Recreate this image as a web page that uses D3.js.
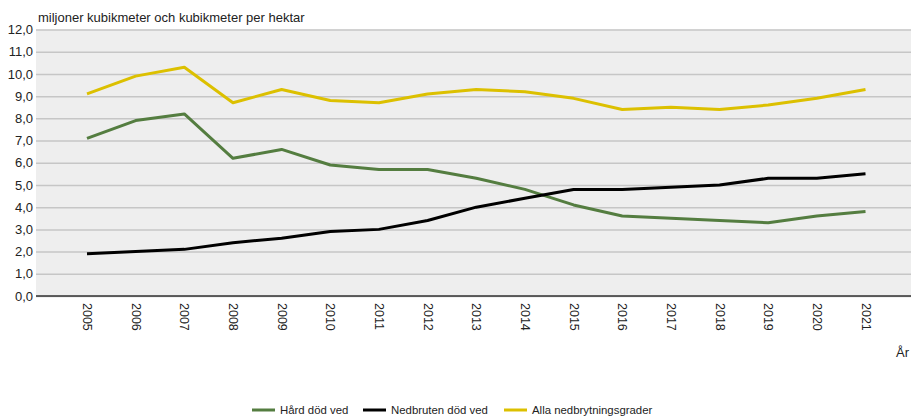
<!DOCTYPE html>
<html>
<head>
<meta charset="utf-8">
<script src="https://cdn.jsdelivr.net/npm/d3@7"></script>
<style>
  body { margin: 0; background: #fff; }
  text { font-family: "Liberation Sans", Arial, sans-serif; fill: #222; }
</style>
</head>
<body>
<svg id="chart" width="911" height="417"></svg>
<script>
const years = ['2005', '2006', '2007', '2008', '2009', '2010', '2011', '2012', '2013',
  '2014', '2015', '2016', '2017', '2018', '2019', '2020', '2021'];

const hardDodVed = [7.1, 7.9, 8.2, 6.2, 6.6, 5.9, 5.7, 5.7, 5.3, 4.8, 4.1, 3.6, 3.5, 3.4, 3.3, 3.6, 3.8];
const nedbrutenDodVed = [1.9, 2.0, 2.1, 2.4, 2.6, 2.9, 3.0, 3.4, 4.0, 4.4, 4.8, 4.8, 4.9, 5.0, 5.3, 5.3, 5.5];
const allaGrader = [9.1, 9.9, 10.3, 8.7, 9.3, 8.8, 8.7, 9.1, 9.3, 9.2, 8.9, 8.4, 8.5, 8.4, 8.6, 8.9, 9.3];

const yTicks = d3.range(0, 13);

const series = [
  { name: 'Hård död ved', color: '#547d40', values: hardDodVed },
  { name: 'Nedbruten död ved', color: '#000000', values: nedbrutenDodVed },
  { name: 'Alla nedbrytningsgrader', color: '#dcc000', values: allaGrader }
];

const svg = d3.select('#chart'),
  plot = { left: 36, right: 911, top: 29.5, bottom: 296 };

const x = d3.scalePoint()
  .domain(years)
  .range([87, 865.5]);

const y = d3.scaleLinear()
  .domain([0, 12])
  .range([plot.bottom, plot.top]);

// grey plot background
svg.append('rect')
  .attr('x', plot.left)
  .attr('y', plot.top)
  .attr('width', plot.right - plot.left)
  .attr('height', plot.bottom - plot.top)
  .attr('fill', '#eeeeee');

// grid lines + y labels
const yAxis = g => g
  .attr('transform', `translate(${plot.left},0)`)
  .call(d3.axisLeft(y)
    .tickValues(yTicks)
    .tickSize(-(plot.right - plot.left))
    .tickPadding(3)
    .tickFormat(d => d3.format('.1f')(d).replace('.', ',')))
  .call(g => g.select('.domain').remove())
  .call(g => g.selectAll('.tick line')
    .attr('stroke', '#c6c6c6')
    .attr('stroke-width', 1.5))
  .call(g => g.selectAll('.tick text')
    .attr('font-size', 13)
    .attr('fill', '#222'));

svg.append('g').call(yAxis);

// base line
svg.append('line')
  .attr('x1', plot.left)
  .attr('x2', plot.right)
  .attr('y1', y(0))
  .attr('y2', y(0))
  .attr('stroke', '#333')
  .attr('stroke-width', 1.5);

// x labels, rotated
const xAxis = g => g
  .attr('transform', `translate(0,${plot.bottom})`)
  .call(d3.axisBottom(x).tickSize(0).tickPadding(0))
  .call(g => g.select('.domain').remove())
  .call(g => g.selectAll('.tick text')
    .attr('font-size', 12.5)
    .attr('text-anchor', 'start')
    .attr('dy', '0.35em')
    .attr('transform', 'translate(0,7) rotate(90)'));

svg.append('g').call(xAxis);

// lines
const line = d3.line()
  .x((d, i) => x(years[i]))
  .y(d => y(d));

svg.append('g')
  .selectAll('path')
  .data(series)
  .enter()
  .append('path')
  .attr('fill', 'none')
  .attr('stroke', d => d.color)
  .attr('stroke-width', 3)
  .attr('stroke-linejoin', 'round')
  .attr('d', d => line(d.values));

// titles
svg.append('text')
  .attr('x', 38)
  .attr('y', 22)
  .attr('font-size', 13)
  .text('miljoner kubikmeter och kubikmeter per hektar');

svg.append('text')
  .attr('x', 909)
  .attr('y', 357)
  .attr('text-anchor', 'end')
  .attr('font-size', 13)
  .text('År');

// legend
const legendX = [252, 363, 504];
const legend = svg.append('g')
  .selectAll('g')
  .data(series)
  .enter()
  .append('g')
  .attr('transform', (d, i) => `translate(${legendX[i]},410)`);

legend.append('line')
  .attr('x1', 0)
  .attr('x2', 23)
  .attr('stroke', d => d.color)
  .attr('stroke-width', 3);

legend.append('text')
  .attr('x', 28)
  .attr('dy', '0.35em')
  .attr('font-size', 11.4)
  .text(d => d.name);
</script>
</body>
</html>
